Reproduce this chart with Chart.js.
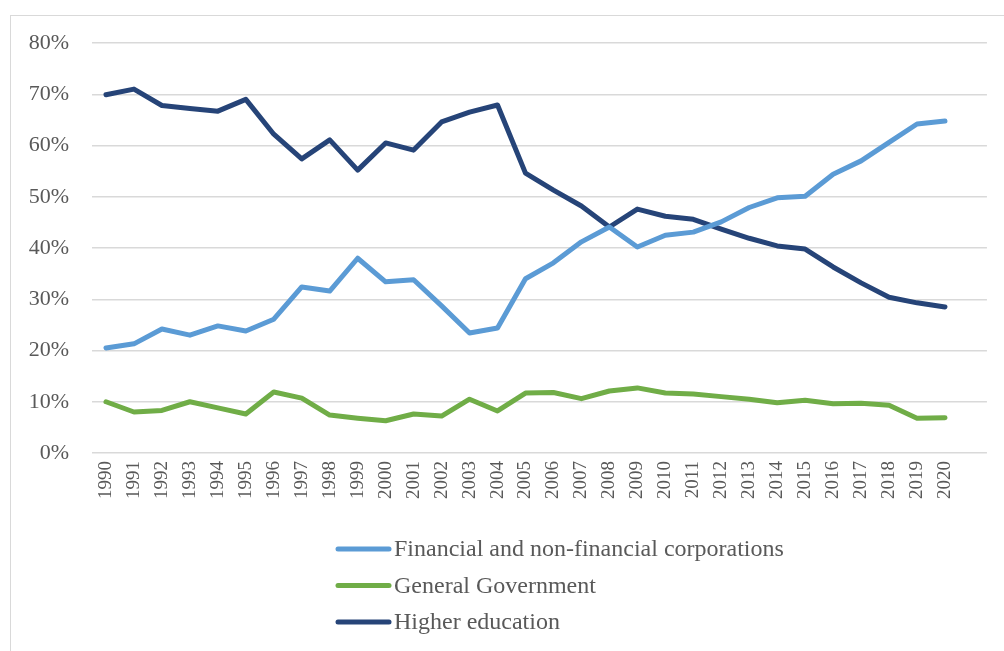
<!DOCTYPE html>
<html>
<head>
<meta charset="utf-8">
<script src="https://cdn.jsdelivr.net/npm/chart.js@4/dist/chart.umd.min.js"></script>
<style>
    html, body { margin: 0; padding: 0; background: #fff; overflow: hidden; }
    #wrap { position: relative; width: 1004px; height: 651px; }
    #frame { position: absolute; left: 10px; top: 15px; width: 1100px; height: 700px; border: 1.5px solid #d9d9d9; }
    canvas { position: absolute; left: 0; top: 0; }
</style>
</head>
<body>
<div id="wrap">
    <div id="frame"></div>
    <canvas id="lineChart" width="1004" height="651"></canvas>
</div>
<script>
// Years on the category axis (the source sheet had one empty trailing category)
const years = ['1990', '1991', '1992', '1993', '1994', '1995', '1996', '1997', '1998', '1999',
    '2000', '2001', '2002', '2003', '2004', '2005', '2006', '2007', '2008', '2009',
    '2010', '2011', '2012', '2013', '2014', '2015', '2016', '2017', '2018', '2019', '2020', ''];

// Share of R&D funding by sector, in percent
const corporations = [20.5, 21.3, 24.2, 23.0, 24.8, 23.8, 26.1, 32.4, 31.6, 38.0,
    33.4, 33.8, 28.7, 23.4, 24.4, 34.0, 37.1, 41.2, 44.1, 40.2,
    42.5, 43.1, 45.1, 47.9, 49.8, 50.1, 54.4, 57.0, 60.6, 64.2, 64.8];
const government = [10.0, 8.0, 8.3, 10.0, 8.8, 7.6, 11.9, 10.7, 7.4, 6.8,
    6.3, 7.6, 7.2, 10.5, 8.2, 11.7, 11.8, 10.6, 12.1, 12.7,
    11.7, 11.5, 11.0, 10.5, 9.8, 10.3, 9.6, 9.7, 9.3, 6.8, 6.9];
const higherEducation = [69.9, 71.0, 67.8, 67.2, 66.7, 69.0, 62.2, 57.4, 61.1, 55.2,
    60.5, 59.1, 64.6, 66.5, 67.9, 54.6, 51.3, 48.2, 44.1, 47.6,
    46.2, 45.6, 43.7, 41.9, 40.4, 39.8, 36.3, 33.2, 30.4, 29.3, 28.5];

const seriesNames = ['Financial and non-financial corporations', 'General Government', 'Higher education'];
const seriesColors = ['#5b9bd5', '#70ad47', '#264478'];
const yTicks = [0, 10, 20, 30, 40, 50, 60, 70, 80];

const FONT = "'Liberation Serif', 'Times New Roman', serif";
const TEXT_COLOR = '#595959';

// Stacked legend under the axis, like the Excel original
const stackedLegend = {
    id: 'stackedLegend',
    afterDraw(chart) {
        const ctx = chart.ctx;
        ctx.save();
        ctx.font = '24px ' + FONT;
        ctx.textBaseline = 'middle';
        chart.data.datasets.forEach((ds, i) => {
            const y = 549 + i * 36.5;
            ctx.strokeStyle = ds.borderColor;
            ctx.lineWidth = 5;
            ctx.lineCap = 'round';
            ctx.beginPath();
            ctx.moveTo(338, y);
            ctx.lineTo(389, y);
            ctx.stroke();
            ctx.fillStyle = TEXT_COLOR;
            ctx.fillText(ds.label, 394, y + 1);
        });
        ctx.restore();
    }
};

function makeDataset(i, values) {
    return {
        label: seriesNames[i],
        data: values,
        borderColor: seriesColors[i],
        backgroundColor: seriesColors[i],
        borderWidth: 5,
        borderCapStyle: 'round',
        borderJoinStyle: 'round',
        pointRadius: 0,
        tension: 0,
        fill: false
    };
}

function renderChart() {
    const ctx = document.getElementById('lineChart').getContext('2d');
    new Chart(ctx, {
        type: 'line',
        data: {
            labels: years,
            datasets: [
                makeDataset(0, corporations),
                makeDataset(1, government),
                makeDataset(2, higherEducation)
            ]
        },
        options: {
            responsive: false,
            animation: false,
            layout: { padding: { top: 43, right: 16, left: 0, bottom: 0 } },
            plugins: {
                legend: { display: false },
                tooltip: { enabled: false }
            },
            scales: {
                x: {
                    offset: true,
                    grid: { display: false, drawTicks: false },
                    border: { display: false },
                    ticks: {
                        autoSkip: false,
                        minRotation: 90,
                        maxRotation: 90,
                        padding: 8,
                        color: TEXT_COLOR,
                        font: { family: FONT, size: 19 }
                    },
                    afterFit: scale => { scale.height = 198; }
                },
                y: {
                    min: 0,
                    max: 80,
                    afterBuildTicks: scale => { scale.ticks = yTicks.map(v => ({ value: v })); },
                    grid: { color: '#d9d9d9', lineWidth: 1.5, drawTicks: false },
                    border: { display: false },
                    ticks: {
                        padding: 23,
                        color: TEXT_COLOR,
                        font: { family: FONT, size: 22 },
                        callback: v => v + '%'
                    },
                    afterFit: scale => { scale.width = 92; }
                }
            }
        },
        plugins: [stackedLegend]
    });
}

renderChart();
</script>
</body>
</html>
